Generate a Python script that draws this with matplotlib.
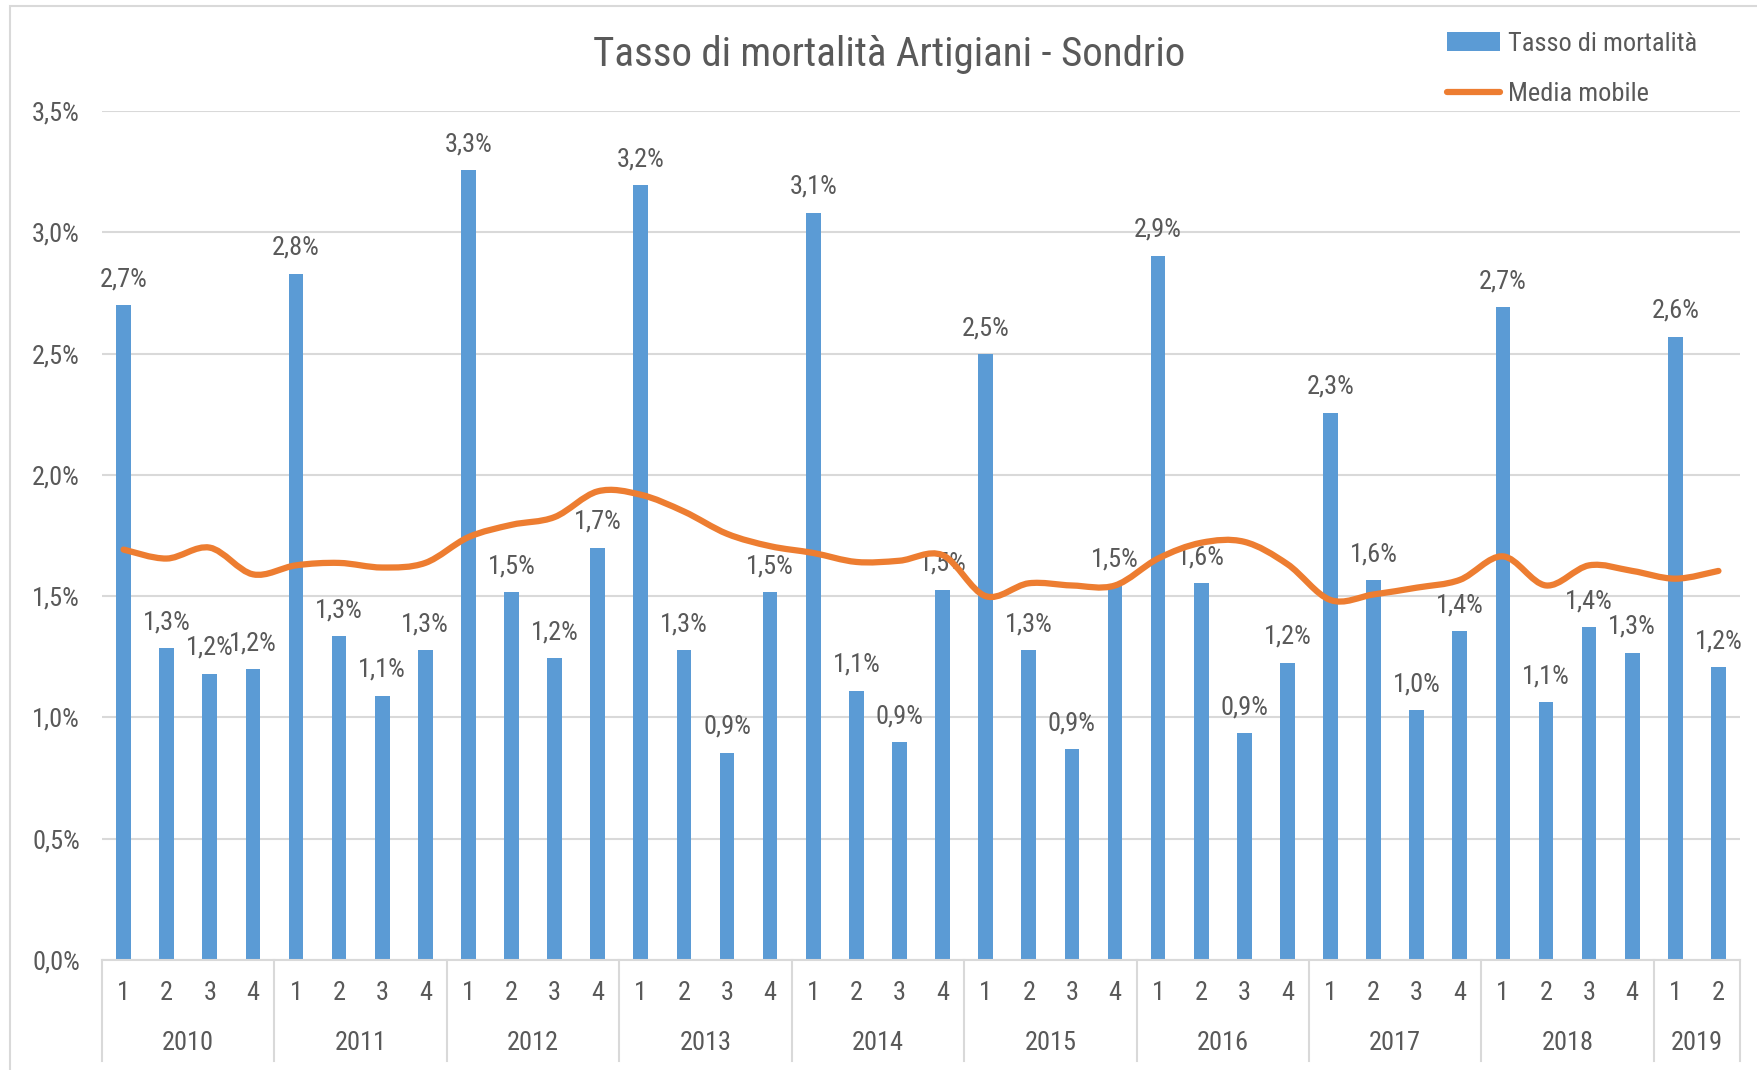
import matplotlib
matplotlib.use('Agg')
import matplotlib.pyplot as plt
from matplotlib import font_manager
from matplotlib.path import Path
from matplotlib.patches import PathPatch, Rectangle
from matplotlib.lines import Line2D

# dati (percentuali)
anni = ['2010', '2011', '2012', '2013', '2014', '2015', '2016', '2017', '2018', '2019']
trimestri_per_anno = [4, 4, 4, 4, 4, 4, 4, 4, 4, 2]
tasso = [2.70, 1.285, 1.18, 1.20,
         2.83, 1.336, 1.09, 1.276,
         3.255, 1.516, 1.244, 1.70,
         3.195, 1.276, 0.855, 1.516,
         3.08, 1.11, 0.897, 1.526,
         2.497, 1.276, 0.869, 1.544,
         2.903, 1.553, 0.934, 1.225,
         2.256, 1.567, 1.031, 1.355,
         2.691, 1.063, 1.373, 1.267,
         2.57, 1.207]
media_mobile = [1.692, 1.655, 1.70, 1.59,
                1.627, 1.637, 1.618, 1.637,
                1.743, 1.794, 1.826, 1.932,
                1.918, 1.849, 1.757, 1.706,
                1.678, 1.641, 1.646, 1.669,
                1.50, 1.553, 1.544, 1.544,
                1.655, 1.72, 1.724, 1.632,
                1.484, 1.507, 1.535, 1.567,
                1.664, 1.544, 1.627, 1.604,
                1.572, 1.604]

# font stretto tipo Calibri se c'e'
nomi = [f.name for f in font_manager.fontManager.ttflist]
font = 'Open Sans'
for cand in ['Liberation Sans Narrow', 'Roboto Condensed', 'Open Sans']:
    if cand in nomi:
        font = cand
        break
plt.rcParams['font.family'] = [font, 'DejaVu Sans']

grigio = '#595959'
blu = '#5B9BD5'
arancio = '#ED7D31'
griglia = '#D9D9D9'
fs = 19

fig = plt.figure(figsize=(17.58, 10.70), dpi=100)
ax = fig.add_axes([102 / 1758, 1 - 960 / 1070, (1740 - 102) / 1758, (960 - 111) / 1070])

x = list(range(len(tasso)))
ax.bar(x, tasso, width=0.34, color=blu, zorder=2)

# etichette sulle barre
for xi, v in zip(x, tasso):
    ax.annotate(('%.1f%%' % v).replace('.', ','), (xi, v), xytext=(0, 10),
                textcoords='offset points', ha='center', va='bottom',
                fontsize=fs, color=grigio, zorder=3)

# linea smussata (catmull-rom -> bezier)
pts = list(zip(x, media_mobile))
verts = [pts[0]]
codes = [Path.MOVETO]
for i in range(len(pts) - 1):
    p0 = pts[i - 1] if i > 0 else pts[i]
    p1 = pts[i]
    p2 = pts[i + 1]
    p3 = pts[i + 2] if i + 2 < len(pts) else pts[i + 1]
    c1 = (p1[0] + (p2[0] - p0[0]) / 6, p1[1] + (p2[1] - p0[1]) / 6)
    c2 = (p2[0] - (p3[0] - p1[0]) / 6, p2[1] - (p3[1] - p1[1]) / 6)
    verts += [c1, c2, p2]
    codes += [Path.CURVE4] * 3
ax.add_patch(PathPatch(Path(verts, codes), facecolor='none', edgecolor=arancio,
                       lw=4.5, capstyle='round', joinstyle='round', zorder=4))

ax.set_xlim(-0.5, len(tasso) - 0.5)
ax.set_ylim(0, 3.5)
ax.set_yticks([0, 0.5, 1.0, 1.5, 2.0, 2.5, 3.0, 3.5])
ax.set_yticklabels(['0,0%', '0,5%', '1,0%', '1,5%', '2,0%', '2,5%', '3,0%', '3,5%'])
ax.tick_params(axis='y', length=0, pad=16, labelsize=fs, labelcolor=grigio)
ax.grid(axis='y', color=griglia, lw=1.5, zorder=0)
for s in ['top', 'right', 'left']:
    ax.spines[s].set_visible(False)
ax.spines['bottom'].set_color(griglia)
ax.spines['bottom'].set_linewidth(1.5)

# trimestri e anni sotto
etichette_q = []
for n in trimestri_per_anno:
    etichette_q += [str(q + 1) for q in range(n)]
ax.set_xticks(x)
ax.set_xticklabels(etichette_q)
ax.tick_params(axis='x', length=0, pad=15, labelsize=fs, labelcolor=grigio)

trans = ax.get_xaxis_transform()
inizio = -0.5
ax.plot([inizio, inizio], [0, -0.119], transform=trans, color=griglia, lw=1.5, clip_on=False)
for anno, n in zip(anni, trimestri_per_anno):
    fine = inizio + n
    ax.text((inizio + fine) / 2, -0.0978, anno, transform=trans, ha='center', va='center',
            fontsize=fs, color=grigio)
    ax.plot([fine, fine], [0, -0.119], transform=trans, color=griglia, lw=1.5, clip_on=False)
    inizio = fine

fig.text(889 / 1758, 1 - 55 / 1070, 'Tasso di mortalità Artigiani - Sondrio', ha='center', va='center',
         fontsize=29.5, color=grigio)

maniglie = [Rectangle((0, 0), 1, 1, facecolor=blu, edgecolor='none'),
            Line2D([0], [0], color=arancio, lw=4.5, solid_capstyle='round')]
fig.legend(maniglie, ['Tasso di mortalità', 'Media mobile'], loc='upper left',
           bbox_to_anchor=(1423 / 1758, 1 - 8 / 1070), frameon=False, fontsize=fs,
           labelspacing=1.0, handlelength=2.0, handletextpad=0.34, labelcolor=grigio)

# bordo del grafico
fig.add_artist(Rectangle((10 / 1758, -0.1), 1.2, 1 - 6 / 1070 + 0.1, transform=fig.transFigure,
                         facecolor='none', edgecolor=griglia, lw=1.5))

fig.savefig('out.png', dpi=100)
